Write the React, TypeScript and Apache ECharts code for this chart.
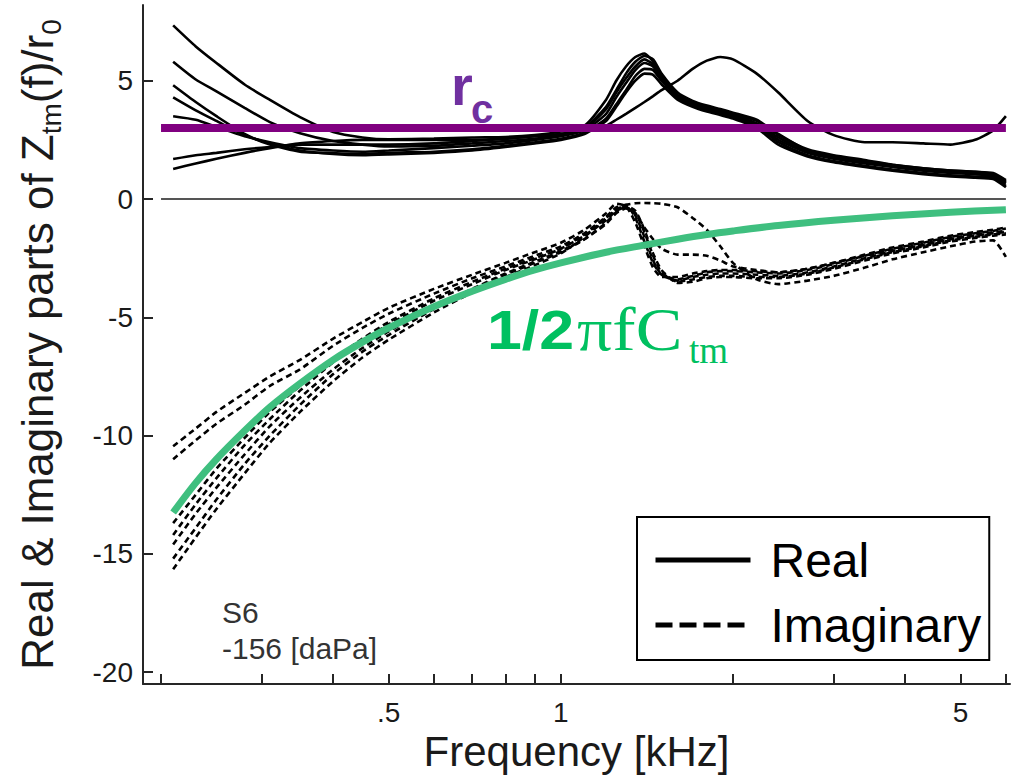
import React, { useEffect, useRef } from "react";
import * as echarts from "echarts";

// ---------- data (frequencies in kHz, values in units of r0) ----------
const FREQ = [0.21, 0.23, 0.25, 0.28, 0.31, 0.35, 0.4, 0.45, 0.5, 0.6, 0.7, 0.8, 0.9, 1.0, 1.1, 1.2, 1.25, 1.3, 1.35, 1.4, 1.45, 1.5, 1.6, 1.7, 1.8, 1.9, 2.0, 2.2, 2.4, 2.7, 3.0, 3.4, 3.8, 4.3, 4.8, 5.3, 5.7, 6.0];

const REAL_1 = [7.34, 6.45, 5.75, 4.84, 4.19, 3.46, 2.83, 2.6, 2.52, 2.55, 2.6, 2.62, 2.7, 2.85, 3.1, 4.2, 5.0, 5.6, 6.0, 6.15, 5.8, 5.1, 4.35, 4.05, 3.85, 3.7, 3.55, 3.2, 2.6, 2.0, 1.75, 1.55, 1.4, 1.25, 1.15, 1.1, 1.0, 0.7];
const REAL_2 = [5.8, 5.05, 4.55, 3.85, 3.25, 2.78, 2.45, 2.3, 2.22, 2.25, 2.35, 2.45, 2.55, 2.7, 2.95, 3.8, 4.5, 5.1, 5.6, 5.9, 5.7, 5.2, 4.4, 4.1, 3.9, 3.75, 3.6, 3.3, 2.7, 2.1, 1.85, 1.65, 1.45, 1.3, 1.2, 1.15, 1.05, 0.75];
const REAL_3 = [4.81, 4.1, 3.5, 2.75, 2.3, 2.0, 1.94, 1.9, 1.95, 2.0, 2.1, 2.25, 2.4, 2.55, 2.8, 3.4, 4.0, 4.6, 5.2, 5.5, 5.45, 5.0, 4.3, 3.95, 3.75, 3.6, 3.45, 3.1, 2.4, 1.85, 1.6, 1.4, 1.25, 1.1, 1.0, 0.95, 0.9, 0.55];
const REAL_4 = [4.3, 3.75, 3.3, 2.7, 2.35, 2.05, 1.9, 1.85, 1.88, 1.95, 2.05, 2.2, 2.35, 2.5, 2.75, 3.3, 3.9, 4.5, 5.0, 5.3, 5.25, 4.85, 4.2, 3.9, 3.7, 3.55, 3.4, 3.0, 2.3, 1.8, 1.55, 1.35, 1.2, 1.05, 0.95, 0.9, 0.85, 0.5];
const REAL_5 = [3.5, 3.35, 3.05, 2.65, 2.4, 2.15, 2.05, 2.0, 2.05, 2.15, 2.25, 2.35, 2.5, 2.65, 2.9, 3.6, 4.3, 4.9, 5.45, 5.75, 5.6, 5.05, 4.35, 4.0, 3.8, 3.65, 3.5, 3.15, 2.5, 1.95, 1.7, 1.5, 1.35, 1.2, 1.1, 1.05, 0.95, 0.65];
const REAL_6 = [1.69, 1.85, 1.95, 2.1, 2.2, 2.3, 2.3, 2.3, 2.3, 2.35, 2.45, 2.55, 2.65, 2.75, 2.9, 3.1, 3.35, 3.6, 3.85, 4.1, 4.35, 4.6, 5.0, 5.5, 5.85, 6.0, 5.9, 5.3, 4.5, 3.3, 2.7, 2.4, 2.4, 2.35, 2.3, 2.5, 2.9, 3.5];
const REAL_7 = [1.27, 1.5, 1.7, 1.95, 2.15, 2.35, 2.45, 2.5, 2.5, 2.5, 2.5, 2.55, 2.65, 2.75, 3.0, 3.9, 4.6, 5.3, 5.8, 6.05, 5.9, 5.3, 4.5, 4.15, 3.95, 3.8, 3.65, 3.35, 2.75, 2.05, 1.8, 1.6, 1.45, 1.3, 1.2, 1.15, 1.1, 0.8];

const IMAG_1 = [-10.45, -9.7, -9.0, -8.2, -7.5, -6.8, -5.9, -5.2, -4.6, -3.8, -3.2, -2.7, -2.25, -1.85, -1.3, -0.6, -0.2, -0.3, -1.0, -2.0, -2.9, -3.3, -3.3, -3.15, -3.05, -3.0, -3.0, -3.05, -3.1, -2.95, -2.7, -2.35, -2.05, -1.8, -1.55, -1.4, -1.3, -1.2];
const IMAG_2 = [-11.0, -10.2, -9.5, -8.7, -7.9, -7.2, -6.2, -5.45, -4.85, -4.0, -3.35, -2.85, -2.4, -2.0, -1.45, -0.75, -0.35, -0.25, -0.8, -1.8, -2.7, -3.2, -3.4, -3.25, -3.1, -3.05, -3.05, -3.1, -3.15, -3.0, -2.75, -2.4, -2.1, -1.85, -1.6, -1.45, -1.35, -1.25];
const IMAG_3 = [-13.7, -12.5, -11.4, -10.1, -9.0, -7.9, -6.8, -5.9, -5.2, -4.2, -3.5, -2.95, -2.5, -2.1, -1.5, -0.8, -0.45, -0.35, -0.6, -1.2, -1.7, -2.1, -2.35, -2.35, -2.4, -2.6, -2.85, -3.0, -3.1, -2.95, -2.7, -2.4, -2.15, -1.9, -1.65, -1.5, -1.4, -1.35];
const IMAG_4 = [-14.2, -12.9, -11.8, -10.4, -9.3, -8.1, -6.9, -6.0, -5.3, -4.3, -3.6, -3.0, -2.55, -2.1, -1.55, -0.9, -0.5, -0.35, -0.7, -1.6, -2.6, -3.2, -3.45, -3.3, -3.2, -3.15, -3.15, -3.2, -3.25, -3.1, -2.85, -2.5, -2.2, -1.95, -1.7, -1.55, -1.45, -1.4];
const IMAG_5 = [-14.6, -13.3, -12.2, -10.8, -9.6, -8.4, -7.2, -6.3, -5.6, -4.55, -3.8, -3.15, -2.65, -2.2, -1.7, -1.05, -0.6, -0.4, -0.6, -1.4, -2.4, -3.1, -3.5, -3.4, -3.3, -3.25, -3.25, -3.3, -3.3, -3.15, -2.9, -2.55, -2.25, -2.0, -1.75, -1.6, -1.5, -1.45];
const IMAG_6 = [-15.2, -13.9, -12.7, -11.2, -10.0, -8.7, -7.4, -6.45, -5.75, -4.65, -3.85, -3.2, -2.7, -2.25, -1.7, -1.0, -0.55, -0.3, -0.5, -1.3, -2.3, -3.0, -3.55, -3.5, -3.35, -3.3, -3.3, -3.35, -3.35, -3.2, -2.95, -2.6, -2.3, -2.05, -1.8, -1.65, -1.55, -1.5];
const IMAG_7 = [-15.65, -14.3, -13.1, -11.6, -10.3, -9.0, -7.7, -6.7, -5.95, -4.8, -3.95, -3.3, -2.8, -2.3, -1.6, -0.8, -0.45, -0.25, -0.18, -0.17, -0.18, -0.2, -0.35, -0.8, -1.3, -2.0, -2.7, -3.4, -3.6, -3.45, -3.25, -2.9, -2.55, -2.25, -2.0, -1.8, -1.75, -2.45];

const GREEN_FREQ = [0.21, 0.23, 0.25, 0.28, 0.31, 0.35, 0.4, 0.45, 0.5, 0.6, 0.7, 0.8, 0.9, 1.0, 1.2, 1.4, 1.6, 1.8, 2.0, 2.4, 3.0, 3.8, 4.8, 6.0];
const GREEN_VALUES = [-13.25, -12.0, -11.0, -9.8, -8.8, -7.8, -6.8, -6.05, -5.45, -4.55, -3.9, -3.4, -3.0, -2.7, -2.25, -1.95, -1.7, -1.5, -1.35, -1.12, -0.9, -0.71, -0.56, -0.45];

const LINE_FREQ = [0.2, 6.0];
const RC_VALUES = [3, 3];
const ZERO_VALUES = [0, 0];

const X_MIN = 0.186;
const X_MAX = 6.1;
const X_TICKS = [0.2, 0.3, 0.4, 0.5, 0.6, 0.7, 0.8, 0.9, 1, 2, 3, 4, 5, 6];
const X_LABEL_FREQS = [0.5, 1, 5];
const X_LABEL_TEXT = [".5", "1", "5"];
const Y_MIN = -20.5;
const Y_MAX = 8.2;
const Y_TICKS = [-20, -15, -10, -5, 0, 5];

const REAL_SERIES = [REAL_1, REAL_2, REAL_3, REAL_4, REAL_5, REAL_6, REAL_7];
const IMAG_SERIES = [IMAG_1, IMAG_2, IMAG_3, IMAG_4, IMAG_5, IMAG_6, IMAG_7];

const SANS = '"Liberation Sans", Arial, Helvetica, sans-serif';
const SERIF = '"Liberation Serif", "Times New Roman", serif';

const PURPLE_TEXT = "#7030a0";
const GREEN_TEXT = "#00c060";

const lg = (f: number) => Math.log10(f);
const toPts = (fs: number[], vs: number[]) => fs.map((f, i) => [lg(f), vs[i]]);

export default function App() {
  const ref = useRef<HTMLDivElement>(null);

  useEffect(() => {
    if (!ref.current) return;
    const chart = echarts.init(ref.current, null, { renderer: "svg" });

    const series: any[] = [];
    series.push({
      type: "line",
      name: "zero",
      data: toPts(LINE_FREQ, ZERO_VALUES),
      symbol: "none",
      silent: true,
      lineStyle: { color: "#555", width: 2 },
      z: 1,
    });
    REAL_SERIES.forEach((vals) =>
      series.push({
        type: "line",
        name: "Real",
        data: toPts(FREQ, vals),
        symbol: "none",
        smooth: 0.2,
        silent: true,
        itemStyle: { color: "#000" },
        lineStyle: { color: "#000", width: 2.6, type: "solid" },
        z: 2,
      })
    );
    IMAG_SERIES.forEach((vals) =>
      series.push({
        type: "line",
        name: "Imaginary",
        data: toPts(FREQ, vals),
        symbol: "none",
        smooth: 0.2,
        silent: true,
        itemStyle: { color: "#000" },
        lineStyle: { color: "#000", width: 2.6, type: [6, 4] },
        z: 2,
      })
    );
    series.push({
      type: "line",
      name: "rc",
      data: toPts(LINE_FREQ, RC_VALUES),
      symbol: "none",
      silent: true,
      lineStyle: { color: "#800080", width: 8 },
      z: 3,
    });
    series.push({
      type: "line",
      name: "capacitance",
      data: toPts(GREEN_FREQ, GREEN_VALUES),
      symbol: "none",
      smooth: 0.3,
      silent: true,
      lineStyle: { color: "#3fbf7f", width: 7 },
      z: 3,
    });

    const axisColor = "#262626";

    chart.setOption({
      animation: false,
      backgroundColor: "#ffffff",
      grid: { left: 143, right: 11, top: 5, bottom: 94, containLabel: false, outerBoundsMode: "none" },
      xAxis: {
        type: "value",
        min: lg(X_MIN),
        max: lg(X_MAX),
        axisLine: { show: true, onZero: false, lineStyle: { color: axisColor, width: 2 } },
        axisTick: {
          show: true,
          inside: true,
          length: 10,
          customValues: X_TICKS.map(lg),
          lineStyle: { color: axisColor, width: 2 },
        },
        axisLabel: {
          show: true,
          customValues: X_LABEL_FREQS.map(lg),
          formatter: (v: number) => {
            const i = X_LABEL_FREQS.findIndex((f) => Math.abs(lg(f) - v) < 1e-6);
            return i >= 0 ? X_LABEL_TEXT[i] : "";
          },
          fontSize: 28,
          fontFamily: SANS,
          color: "#1a1a1a",
          margin: 14,
        },
        splitLine: { show: false },
        name: "Frequency [kHz]",
        nameLocation: "middle",
        nameGap: 45,
        nameTextStyle: { fontSize: 42, fontFamily: SANS, color: "#1a1a1a" },
      },
      yAxis: {
        type: "value",
        min: Y_MIN,
        max: Y_MAX,
        axisLine: { show: true, onZero: false, lineStyle: { color: axisColor, width: 2 } },
        axisTick: {
          show: true,
          inside: true,
          length: 10,
          customValues: Y_TICKS,
          lineStyle: { color: axisColor, width: 2 },
        },
        axisLabel: {
          show: true,
          customValues: Y_TICKS,
          fontSize: 28,
          fontFamily: SANS,
          color: "#1a1a1a",
          margin: 10,
        },
        splitLine: { show: false },
        name: "Real & Imaginary parts of Z{s|tm}(f)/r{s|0}",
        nameLocation: "middle",
        nameRotate: 90,
        nameGap: 78,
        nameTextStyle: {
          fontSize: 44,
          fontFamily: SANS,
          color: "#1a1a1a",
          lineHeight: 56,
          rich: {
            s: { fontSize: 28, fontFamily: SANS, color: "#1a1a1a", lineHeight: 24, verticalAlign: "bottom" },
          },
        },
      },
      legend: {
        show: true,
        data: [
          { name: "Real" },
          { name: "Imaginary", lineStyle: { type: [17, 7] } },
        ],
        orient: "vertical",
        left: 637,
        top: 517,
        padding: [19, 8, 11, 16],
        itemGap: 17,
        itemWidth: 95,
        itemHeight: 20,
        borderColor: "#000",
        borderWidth: 2,
        backgroundColor: "#fff",
        selectedMode: false,
        itemStyle: { opacity: 0, borderWidth: 0 },
        lineStyle: { width: 5 },
        textStyle: { fontSize: 48, fontFamily: SANS, color: "#000", padding: [0, 0, 0, 15] },
      },
      graphic: [
        {
          type: "text",
          left: 451,
          top: 57,
          silent: true,
          style: { text: "r", fontSize: 56, fontWeight: "bold", fontFamily: SANS, fill: PURPLE_TEXT },
        },
        {
          type: "text",
          left: 471,
          top: 89,
          silent: true,
          style: { text: "c", fontSize: 40, fontWeight: "bold", fontFamily: SANS, fill: PURPLE_TEXT },
        },
        {
          type: "text",
          left: 487,
          top: 302,
          scaleX: 1.12,
          silent: true,
          style: { text: "1/2", fontSize: 56, fontWeight: "bold", fontFamily: SANS, fill: GREEN_TEXT },
        },
        {
          type: "text",
          left: 577,
          top: 298,
          scaleX: 1.13,
          silent: true,
          style: { text: "πfC", fontSize: 62, fontFamily: SERIF, fill: GREEN_TEXT },
        },
        {
          type: "text",
          left: 689,
          top: 332,
          silent: true,
          style: { text: "tm", fontSize: 37, fontFamily: SERIF, fill: GREEN_TEXT },
        },
        {
          type: "text",
          left: 222,
          top: 594,
          silent: true,
          style: {
            text: "S6\n-156 [daPa]",
            fontSize: 30,
            lineHeight: 36,
            fontFamily: SANS,
            fill: "#333",
          },
        },
      ],
      series,
    });

    return () => chart.dispose();
  }, []);

  return (
    <div
      ref={ref}
      style={{ position: "fixed", left: 0, top: 0, width: 1021, height: 778, background: "#fff" }}
    />
  );
}
